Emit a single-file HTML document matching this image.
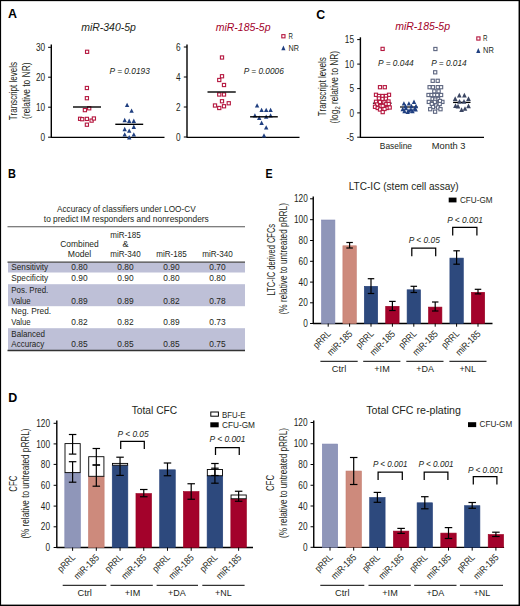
<!DOCTYPE html>
<html><head><meta charset="utf-8"><style>
html,body{margin:0;padding:0;background:#fff;overflow:hidden;width:520px;height:606px;}
svg{display:block;font-family:"Liberation Sans", sans-serif;}
</style></head><body>
<svg width="520" height="606" viewBox="0 0 520 606">
<rect x="0" y="0" width="520" height="606" fill="#000"/>
<rect x="1.1" y="1.15" width="517.45" height="603.45" fill="#fff"/>
<text x="7.9" y="18.1" font-size="13.5" text-anchor="start" fill="#000" font-weight="bold" font-style="normal" textLength="9.0" lengthAdjust="spacingAndGlyphs" >A</text>
<text x="316.2" y="18.6" font-size="13.5" text-anchor="start" fill="#000" font-weight="bold" font-style="normal" textLength="8.9" lengthAdjust="spacingAndGlyphs" >C</text>
<text x="8.1" y="177.8" font-size="13.5" text-anchor="start" fill="#000" font-weight="bold" font-style="normal" textLength="7.9" lengthAdjust="spacingAndGlyphs" >B</text>
<text x="265.4" y="178" font-size="13.5" text-anchor="start" fill="#000" font-weight="bold" font-style="normal" textLength="7.1" lengthAdjust="spacingAndGlyphs" >E</text>
<text x="8.2" y="401.6" font-size="13.5" text-anchor="start" fill="#000" font-weight="bold" font-style="normal" textLength="9.0" lengthAdjust="spacingAndGlyphs" >D</text>
<line x1="51.3" y1="44.5" x2="51.3" y2="137.8" stroke="#000" stroke-width="1.4"/>
<line x1="48.099999999999994" y1="47.3" x2="51.3" y2="47.3" stroke="#000" stroke-width="1"/>
<text x="45.2" y="50.9" font-size="10.2" text-anchor="end" fill="#231f20" font-weight="normal" font-style="normal" textLength="9.2" lengthAdjust="spacingAndGlyphs" >30</text>
<line x1="48.099999999999994" y1="77.2" x2="51.3" y2="77.2" stroke="#000" stroke-width="1"/>
<text x="45.2" y="80.8" font-size="10.2" text-anchor="end" fill="#231f20" font-weight="normal" font-style="normal" textLength="9.2" lengthAdjust="spacingAndGlyphs" >20</text>
<line x1="48.099999999999994" y1="107.2" x2="51.3" y2="107.2" stroke="#000" stroke-width="1"/>
<text x="45.2" y="110.8" font-size="10.2" text-anchor="end" fill="#231f20" font-weight="normal" font-style="normal" textLength="9.2" lengthAdjust="spacingAndGlyphs" >10</text>
<line x1="48.099999999999994" y1="137.2" x2="51.3" y2="137.2" stroke="#000" stroke-width="1"/>
<text x="45.2" y="140.79999999999998" font-size="10.2" text-anchor="end" fill="#231f20" font-weight="normal" font-style="normal" textLength="4.6" lengthAdjust="spacingAndGlyphs" >0</text>
<line x1="51" y1="137.3" x2="164.5" y2="137.3" stroke="#000" stroke-width="1.3"/>
<text x="81.2" y="30.9" font-size="10.5" text-anchor="start" fill="#231f20" font-weight="normal" font-style="italic" textLength="54.7" lengthAdjust="spacingAndGlyphs" >miR-340-5p</text>
<text x="109.6" y="74" font-size="8.8" text-anchor="start" fill="#231f20" font-weight="normal" font-style="italic" textLength="40.2" lengthAdjust="spacingAndGlyphs" >P = 0.0193</text>
<rect x="85.50" y="50.20" width="3.2" height="3.2" fill="#fff" stroke="#b5173f" stroke-width="1.1"/>
<rect x="85.30" y="86.40" width="3.2" height="3.2" fill="#fff" stroke="#b5173f" stroke-width="1.1"/>
<rect x="85.30" y="96.60" width="3.2" height="3.2" fill="#fff" stroke="#b5173f" stroke-width="1.1"/>
<rect x="87.60" y="106.70" width="3.2" height="3.2" fill="#fff" stroke="#b5173f" stroke-width="1.1"/>
<rect x="83.30" y="108.50" width="3.2" height="3.2" fill="#fff" stroke="#b5173f" stroke-width="1.1"/>
<rect x="78.50" y="117.20" width="3.2" height="3.2" fill="#fff" stroke="#b5173f" stroke-width="1.1"/>
<rect x="80.60" y="117.60" width="3.2" height="3.2" fill="#fff" stroke="#b5173f" stroke-width="1.1"/>
<rect x="85.30" y="117.30" width="3.2" height="3.2" fill="#fff" stroke="#b5173f" stroke-width="1.1"/>
<rect x="90.00" y="119.00" width="3.2" height="3.2" fill="#fff" stroke="#b5173f" stroke-width="1.1"/>
<rect x="92.30" y="116.90" width="3.2" height="3.2" fill="#fff" stroke="#b5173f" stroke-width="1.1"/>
<rect x="85.30" y="123.10" width="3.2" height="3.2" fill="#fff" stroke="#b5173f" stroke-width="1.1"/>
<line x1="73" y1="107" x2="101" y2="107" stroke="#000" stroke-width="1.4"/>
<polygon points="127.10,102.70 129.30,107.10 124.90,107.10" fill="#1f3f80"/>
<polygon points="131.60,108.40 133.80,112.80 129.40,112.80" fill="#1f3f80"/>
<polygon points="124.70,117.80 126.90,122.20 122.50,122.20" fill="#1f3f80"/>
<polygon points="129.20,118.60 131.40,123.00 127.00,123.00" fill="#1f3f80"/>
<polygon points="133.80,118.60 136.00,123.00 131.60,123.00" fill="#1f3f80"/>
<polygon points="133.80,124.50 136.00,128.90 131.60,128.90" fill="#1f3f80"/>
<polygon points="124.70,126.80 126.90,131.20 122.50,131.20" fill="#1f3f80"/>
<polygon points="129.20,128.40 131.40,132.80 127.00,132.80" fill="#1f3f80"/>
<polygon points="124.70,132.20 126.90,136.60 122.50,136.60" fill="#1f3f80"/>
<polygon points="133.80,132.20 136.00,136.60 131.60,136.60" fill="#1f3f80"/>
<polygon points="129.20,135.10 131.40,139.50 127.00,139.50" fill="#1f3f80"/>
<line x1="115.3" y1="124.3" x2="143.2" y2="124.3" stroke="#000" stroke-width="1.4"/>
<text transform="translate(16.8,91) rotate(-90)" x="0" y="0" font-size="10" text-anchor="middle" fill="#231f20" textLength="58.3" lengthAdjust="spacingAndGlyphs">Transcript levels</text>
<text transform="translate(30,90.7) rotate(-90)" x="0" y="0" font-size="10" text-anchor="middle" fill="#231f20" textLength="56.4" lengthAdjust="spacingAndGlyphs">(relative to NR)</text>
<line x1="187" y1="44.5" x2="187" y2="137.8" stroke="#000" stroke-width="1.4"/>
<line x1="183.8" y1="47" x2="187" y2="47" stroke="#000" stroke-width="1"/>
<text x="180.5" y="50.6" font-size="10.2" text-anchor="end" fill="#231f20" font-weight="normal" font-style="normal" textLength="4.6" lengthAdjust="spacingAndGlyphs" >6</text>
<line x1="183.8" y1="77" x2="187" y2="77" stroke="#000" stroke-width="1"/>
<text x="180.5" y="80.6" font-size="10.2" text-anchor="end" fill="#231f20" font-weight="normal" font-style="normal" textLength="4.6" lengthAdjust="spacingAndGlyphs" >4</text>
<line x1="183.8" y1="107" x2="187" y2="107" stroke="#000" stroke-width="1"/>
<text x="180.5" y="110.6" font-size="10.2" text-anchor="end" fill="#231f20" font-weight="normal" font-style="normal" textLength="4.6" lengthAdjust="spacingAndGlyphs" >2</text>
<line x1="183.8" y1="137" x2="187" y2="137" stroke="#000" stroke-width="1"/>
<text x="180.5" y="140.6" font-size="10.2" text-anchor="end" fill="#231f20" font-weight="normal" font-style="normal" textLength="4.6" lengthAdjust="spacingAndGlyphs" >0</text>
<line x1="187" y1="137.3" x2="299.5" y2="137.3" stroke="#000" stroke-width="1.3"/>
<text x="215.75" y="30.5" font-size="10.5" text-anchor="start" fill="#a3022b" font-weight="normal" font-style="italic" textLength="54.75" lengthAdjust="spacingAndGlyphs" >miR-185-5p</text>
<rect x="281.80" y="34.65" width="3.2" height="3.2" fill="#fff" stroke="#b5173f" stroke-width="1.1"/>
<text x="288.6" y="39" font-size="8.9" text-anchor="start" fill="#231f20" font-weight="normal" font-style="normal" textLength="4.4" lengthAdjust="spacingAndGlyphs" >R</text>
<polygon points="283.40,45.40 285.50,50.20 281.30,50.20" fill="#1f3f80"/>
<text x="288.6" y="50.5" font-size="8.9" text-anchor="start" fill="#231f20" font-weight="normal" font-style="normal" textLength="10.4" lengthAdjust="spacingAndGlyphs" >NR</text>
<text x="243.75" y="74.4" font-size="8.8" text-anchor="start" fill="#231f20" font-weight="normal" font-style="italic" textLength="40" lengthAdjust="spacingAndGlyphs" >P = 0.0006</text>
<rect x="220.40" y="55.90" width="3.2" height="3.2" fill="#fff" stroke="#b5173f" stroke-width="1.1"/>
<rect x="220.40" y="74.65" width="3.2" height="3.2" fill="#fff" stroke="#b5173f" stroke-width="1.1"/>
<rect x="217.65" y="78.40" width="3.2" height="3.2" fill="#fff" stroke="#b5173f" stroke-width="1.1"/>
<rect x="222.40" y="83.40" width="3.2" height="3.2" fill="#fff" stroke="#b5173f" stroke-width="1.1"/>
<rect x="217.65" y="92.90" width="3.2" height="3.2" fill="#fff" stroke="#b5173f" stroke-width="1.1"/>
<rect x="222.40" y="92.90" width="3.2" height="3.2" fill="#fff" stroke="#b5173f" stroke-width="1.1"/>
<rect x="220.40" y="99.65" width="3.2" height="3.2" fill="#fff" stroke="#b5173f" stroke-width="1.1"/>
<rect x="213.40" y="103.90" width="3.2" height="3.2" fill="#fff" stroke="#b5173f" stroke-width="1.1"/>
<rect x="217.65" y="106.40" width="3.2" height="3.2" fill="#fff" stroke="#b5173f" stroke-width="1.1"/>
<rect x="222.40" y="104.65" width="3.2" height="3.2" fill="#fff" stroke="#b5173f" stroke-width="1.1"/>
<rect x="227.15" y="101.65" width="3.2" height="3.2" fill="#fff" stroke="#b5173f" stroke-width="1.1"/>
<line x1="207.5" y1="92" x2="235.75" y2="92" stroke="#000" stroke-width="1.4"/>
<polygon points="257.10,103.20 259.30,107.60 254.90,107.60" fill="#1f3f80"/>
<polygon points="261.60,107.70 263.80,112.10 259.40,112.10" fill="#1f3f80"/>
<polygon points="266.20,107.70 268.40,112.10 264.00,112.10" fill="#1f3f80"/>
<polygon points="270.60,107.70 272.80,112.10 268.40,112.10" fill="#1f3f80"/>
<polygon points="254.90,113.20 257.10,117.60 252.70,117.60" fill="#1f3f80"/>
<polygon points="270.60,113.20 272.80,117.60 268.40,117.60" fill="#1f3f80"/>
<polygon points="266.20,114.40 268.40,118.80 264.00,118.80" fill="#1f3f80"/>
<polygon points="259.20,115.60 261.40,120.00 257.00,120.00" fill="#1f3f80"/>
<polygon points="261.60,120.50 263.80,124.90 259.40,124.90" fill="#1f3f80"/>
<polygon points="266.20,125.20 268.40,129.60 264.00,129.60" fill="#1f3f80"/>
<polygon points="264.00,133.20 266.20,137.60 261.80,137.60" fill="#1f3f80"/>
<line x1="250.1" y1="116.8" x2="277.8" y2="116.8" stroke="#000" stroke-width="1.4"/>
<line x1="360.4" y1="37.3" x2="360.4" y2="137.7" stroke="#000" stroke-width="1.4"/>
<line x1="357.2" y1="39.6" x2="360.4" y2="39.6" stroke="#000" stroke-width="1"/>
<text x="354" y="43.2" font-size="10.2" text-anchor="end" fill="#231f20" font-weight="normal" font-style="normal" textLength="9.2" lengthAdjust="spacingAndGlyphs" >15</text>
<line x1="357.2" y1="64.1" x2="360.4" y2="64.1" stroke="#000" stroke-width="1"/>
<text x="354" y="67.69999999999999" font-size="10.2" text-anchor="end" fill="#231f20" font-weight="normal" font-style="normal" textLength="9.2" lengthAdjust="spacingAndGlyphs" >10</text>
<line x1="357.2" y1="88.6" x2="360.4" y2="88.6" stroke="#000" stroke-width="1"/>
<text x="354" y="92.19999999999999" font-size="10.2" text-anchor="end" fill="#231f20" font-weight="normal" font-style="normal" textLength="4.6" lengthAdjust="spacingAndGlyphs" >5</text>
<line x1="357.2" y1="112.9" x2="360.4" y2="112.9" stroke="#000" stroke-width="1"/>
<text x="354" y="116.5" font-size="10.2" text-anchor="end" fill="#231f20" font-weight="normal" font-style="normal" textLength="4.6" lengthAdjust="spacingAndGlyphs" >0</text>
<line x1="357.2" y1="137.2" x2="360.4" y2="137.2" stroke="#000" stroke-width="1"/>
<text x="354" y="140.79999999999998" font-size="10.2" text-anchor="end" fill="#231f20" font-weight="normal" font-style="normal" textLength="7.6" lengthAdjust="spacingAndGlyphs" >-5</text>
<line x1="360" y1="137.3" x2="484" y2="137.3" stroke="#000" stroke-width="1.3"/>
<text x="395.2" y="30.2" font-size="10.5" text-anchor="start" fill="#a3022b" font-weight="normal" font-style="italic" textLength="54.8" lengthAdjust="spacingAndGlyphs" >miR-185-5p</text>
<rect x="476.80" y="36.90" width="3.2" height="3.2" fill="#fff" stroke="#b5173f" stroke-width="1.1"/>
<text x="483" y="41.1" font-size="8.9" text-anchor="start" fill="#231f20" font-weight="normal" font-style="normal" textLength="4.5" lengthAdjust="spacingAndGlyphs" >R</text>
<polygon points="478.30,48.10 480.40,52.90 476.20,52.90" fill="#1f3f80"/>
<text x="483" y="52.8" font-size="8.9" text-anchor="start" fill="#231f20" font-weight="normal" font-style="normal" textLength="10.8" lengthAdjust="spacingAndGlyphs" >NR</text>
<text x="378.1" y="66" font-size="8.8" text-anchor="start" fill="#231f20" font-weight="normal" font-style="italic" textLength="35.6" lengthAdjust="spacingAndGlyphs" >P = 0.044</text>
<text x="431.2" y="66" font-size="8.8" text-anchor="start" fill="#231f20" font-weight="normal" font-style="italic" textLength="35.5" lengthAdjust="spacingAndGlyphs" >P = 0.014</text>
<text x="379.8" y="148.7" font-size="9.8" text-anchor="start" fill="#231f20" font-weight="normal" font-style="normal" textLength="32.2" lengthAdjust="spacingAndGlyphs" >Baseline</text>
<text x="431.8" y="148.7" font-size="9.8" text-anchor="start" fill="#231f20" font-weight="normal" font-style="normal" textLength="33.6" lengthAdjust="spacingAndGlyphs" >Month 3</text>
<text transform="translate(325.8,86.7) rotate(-90)" x="0" y="0" font-size="10" text-anchor="middle" fill="#231f20" textLength="59" lengthAdjust="spacingAndGlyphs">Transcript levels</text>
<text transform="translate(338,87.2) rotate(-90)" x="0" y="0" font-size="10" text-anchor="middle" fill="#231f20" textLength="72.6" lengthAdjust="spacingAndGlyphs">(log<tspan font-size="7" dy="2">2</tspan><tspan dy="-2"> relative to NR)</tspan></text>
<line x1="372.9" y1="103.2" x2="391.6" y2="103.2" stroke="#000" stroke-width="1.2"/>
<rect x="381.00" y="47.30" width="3.2" height="3.2" fill="#fff" stroke="#b5173f" stroke-width="1.1"/>
<rect x="378.40" y="85.60" width="3.2" height="3.2" fill="#fff" stroke="#b5173f" stroke-width="1.1"/>
<rect x="383.20" y="85.60" width="3.2" height="3.2" fill="#fff" stroke="#b5173f" stroke-width="1.1"/>
<rect x="374.40" y="93.20" width="3.2" height="3.2" fill="#fff" stroke="#b5173f" stroke-width="1.1"/>
<rect x="387.40" y="93.20" width="3.2" height="3.2" fill="#fff" stroke="#b5173f" stroke-width="1.1"/>
<rect x="377.40" y="94.40" width="3.2" height="3.2" fill="#fff" stroke="#b5173f" stroke-width="1.1"/>
<rect x="380.90" y="94.40" width="3.2" height="3.2" fill="#fff" stroke="#b5173f" stroke-width="1.1"/>
<rect x="384.40" y="94.40" width="3.2" height="3.2" fill="#fff" stroke="#b5173f" stroke-width="1.1"/>
<rect x="377.30" y="96.80" width="3.2" height="3.2" fill="#fff" stroke="#b5173f" stroke-width="1.1"/>
<rect x="380.90" y="97.30" width="3.2" height="3.2" fill="#fff" stroke="#b5173f" stroke-width="1.1"/>
<rect x="384.30" y="97.10" width="3.2" height="3.2" fill="#fff" stroke="#b5173f" stroke-width="1.1"/>
<rect x="374.40" y="100.20" width="3.2" height="3.2" fill="#fff" stroke="#b5173f" stroke-width="1.1"/>
<rect x="378.30" y="100.40" width="3.2" height="3.2" fill="#fff" stroke="#b5173f" stroke-width="1.1"/>
<rect x="382.80" y="100.70" width="3.2" height="3.2" fill="#fff" stroke="#b5173f" stroke-width="1.1"/>
<rect x="386.90" y="99.90" width="3.2" height="3.2" fill="#fff" stroke="#b5173f" stroke-width="1.1"/>
<rect x="384.70" y="102.40" width="3.2" height="3.2" fill="#fff" stroke="#b5173f" stroke-width="1.1"/>
<rect x="387.15" y="102.40" width="3.2" height="3.2" fill="#fff" stroke="#b5173f" stroke-width="1.1"/>
<rect x="375.40" y="102.90" width="3.2" height="3.2" fill="#fff" stroke="#b5173f" stroke-width="1.1"/>
<rect x="379.00" y="104.30" width="3.2" height="3.2" fill="#fff" stroke="#b5173f" stroke-width="1.1"/>
<rect x="381.10" y="104.30" width="3.2" height="3.2" fill="#fff" stroke="#b5173f" stroke-width="1.1"/>
<rect x="373.40" y="105.20" width="3.2" height="3.2" fill="#fff" stroke="#b5173f" stroke-width="1.1"/>
<rect x="376.10" y="106.40" width="3.2" height="3.2" fill="#fff" stroke="#b5173f" stroke-width="1.1"/>
<rect x="385.40" y="106.40" width="3.2" height="3.2" fill="#fff" stroke="#b5173f" stroke-width="1.1"/>
<rect x="388.10" y="105.90" width="3.2" height="3.2" fill="#fff" stroke="#b5173f" stroke-width="1.1"/>
<rect x="382.90" y="107.40" width="3.2" height="3.2" fill="#fff" stroke="#b5173f" stroke-width="1.1"/>
<rect x="378.40" y="107.90" width="3.2" height="3.2" fill="#fff" stroke="#b5173f" stroke-width="1.1"/>
<rect x="381.10" y="110.50" width="3.2" height="3.2" fill="#fff" stroke="#b5173f" stroke-width="1.1"/>
<line x1="400" y1="107" x2="417.6" y2="107" stroke="#000" stroke-width="1.2"/>
<polygon points="403.90,101.20 406.10,105.60 401.70,105.60" fill="#1f3f80"/>
<polygon points="408.90,101.20 411.10,105.60 406.70,105.60" fill="#1f3f80"/>
<polygon points="414.00,99.50 416.20,103.90 411.80,103.90" fill="#1f3f80"/>
<polygon points="405.50,103.80 407.70,108.20 403.30,108.20" fill="#1f3f80"/>
<polygon points="411.50,103.80 413.70,108.20 409.30,108.20" fill="#1f3f80"/>
<polygon points="416.00,103.80 418.20,108.20 413.80,108.20" fill="#1f3f80"/>
<polygon points="402.70,106.80 404.90,111.20 400.50,111.20" fill="#1f3f80"/>
<polygon points="406.00,105.80 408.20,110.20 403.80,110.20" fill="#1f3f80"/>
<polygon points="409.00,108.30 411.20,112.70 406.80,112.70" fill="#1f3f80"/>
<polygon points="412.50,108.80 414.70,113.20 410.30,113.20" fill="#1f3f80"/>
<polygon points="404.50,108.80 406.70,113.20 402.30,113.20" fill="#1f3f80"/>
<polygon points="407.70,109.60 409.90,114.00 405.50,114.00" fill="#1f3f80"/>
<polygon points="410.90,107.20 413.10,111.60 408.70,111.60" fill="#1f3f80"/>
<polygon points="414.70,106.30 416.90,110.70 412.50,110.70" fill="#1f3f80"/>
<polygon points="415.70,107.20 417.90,111.60 413.50,111.60" fill="#1f3f80"/>
<line x1="427" y1="102" x2="444" y2="102" stroke="#333" stroke-width="1.2"/>
<rect x="433.80" y="47.40" width="3.2" height="3.2" fill="#fff" stroke="#5d6680" stroke-width="1.1"/>
<rect x="433.60" y="70.70" width="3.2" height="3.2" fill="#fff" stroke="#5d6680" stroke-width="1.1"/>
<rect x="431.10" y="79.20" width="3.2" height="3.2" fill="#fff" stroke="#5d6680" stroke-width="1.1"/>
<rect x="436.10" y="79.20" width="3.2" height="3.2" fill="#fff" stroke="#5d6680" stroke-width="1.1"/>
<rect x="428.00" y="85.60" width="3.2" height="3.2" fill="#fff" stroke="#5d6680" stroke-width="1.1"/>
<rect x="431.30" y="85.60" width="3.2" height="3.2" fill="#fff" stroke="#5d6680" stroke-width="1.1"/>
<rect x="436.20" y="85.60" width="3.2" height="3.2" fill="#fff" stroke="#5d6680" stroke-width="1.1"/>
<rect x="439.50" y="85.60" width="3.2" height="3.2" fill="#fff" stroke="#5d6680" stroke-width="1.1"/>
<rect x="432.70" y="89.70" width="3.2" height="3.2" fill="#fff" stroke="#5d6680" stroke-width="1.1"/>
<rect x="437.00" y="89.70" width="3.2" height="3.2" fill="#fff" stroke="#5d6680" stroke-width="1.1"/>
<rect x="426.90" y="93.40" width="3.2" height="3.2" fill="#fff" stroke="#5d6680" stroke-width="1.1"/>
<rect x="430.00" y="93.40" width="3.2" height="3.2" fill="#fff" stroke="#5d6680" stroke-width="1.1"/>
<rect x="432.90" y="93.40" width="3.2" height="3.2" fill="#fff" stroke="#5d6680" stroke-width="1.1"/>
<rect x="435.70" y="93.40" width="3.2" height="3.2" fill="#fff" stroke="#5d6680" stroke-width="1.1"/>
<rect x="439.50" y="93.40" width="3.2" height="3.2" fill="#fff" stroke="#5d6680" stroke-width="1.1"/>
<rect x="431.00" y="97.30" width="3.2" height="3.2" fill="#fff" stroke="#5d6680" stroke-width="1.1"/>
<rect x="436.50" y="97.30" width="3.2" height="3.2" fill="#fff" stroke="#5d6680" stroke-width="1.1"/>
<rect x="433.70" y="97.90" width="3.2" height="3.2" fill="#fff" stroke="#5d6680" stroke-width="1.1"/>
<rect x="427.20" y="100.30" width="3.2" height="3.2" fill="#fff" stroke="#5d6680" stroke-width="1.1"/>
<rect x="433.20" y="100.30" width="3.2" height="3.2" fill="#fff" stroke="#5d6680" stroke-width="1.1"/>
<rect x="440.80" y="100.30" width="3.2" height="3.2" fill="#fff" stroke="#5d6680" stroke-width="1.1"/>
<rect x="438.40" y="99.40" width="3.2" height="3.2" fill="#fff" stroke="#5d6680" stroke-width="1.1"/>
<rect x="430.20" y="102.40" width="3.2" height="3.2" fill="#fff" stroke="#5d6680" stroke-width="1.1"/>
<rect x="438.10" y="102.40" width="3.2" height="3.2" fill="#fff" stroke="#5d6680" stroke-width="1.1"/>
<rect x="434.40" y="103.90" width="3.2" height="3.2" fill="#fff" stroke="#5d6680" stroke-width="1.1"/>
<rect x="431.40" y="105.40" width="3.2" height="3.2" fill="#fff" stroke="#5d6680" stroke-width="1.1"/>
<rect x="436.40" y="105.90" width="3.2" height="3.2" fill="#fff" stroke="#5d6680" stroke-width="1.1"/>
<rect x="428.60" y="107.60" width="3.2" height="3.2" fill="#fff" stroke="#5d6680" stroke-width="1.1"/>
<rect x="438.90" y="107.60" width="3.2" height="3.2" fill="#fff" stroke="#5d6680" stroke-width="1.1"/>
<rect x="433.50" y="110.10" width="3.2" height="3.2" fill="#fff" stroke="#5d6680" stroke-width="1.1"/>
<line x1="453.1" y1="102.4" x2="470.5" y2="102.4" stroke="#000" stroke-width="1.3"/>
<polygon points="459.30,92.85 461.65,97.55 456.95,97.55" fill="#3b4663"/>
<polygon points="464.40,92.85 466.75,97.55 462.05,97.55" fill="#3b4663"/>
<polygon points="455.20,96.35 457.55,101.05 452.85,101.05" fill="#3b4663"/>
<polygon points="468.50,96.35 470.85,101.05 466.15,101.05" fill="#3b4663"/>
<polygon points="459.50,98.95 461.85,103.65 457.15,103.65" fill="#3b4663"/>
<polygon points="464.00,98.95 466.35,103.65 461.65,103.65" fill="#3b4663"/>
<polygon points="455.50,103.25 457.85,107.95 453.15,107.95" fill="#3b4663"/>
<polygon points="458.00,103.85 460.35,108.55 455.65,108.55" fill="#3b4663"/>
<polygon points="468.50,103.55 470.85,108.25 466.15,108.25" fill="#3b4663"/>
<polygon points="461.60,107.25 463.95,111.95 459.25,111.95" fill="#3b4663"/>
<polygon points="465.00,106.15 467.35,110.85 462.65,110.85" fill="#3b4663"/>
<text x="126.3" y="211.6" font-size="9.4" text-anchor="middle" fill="#231f20" font-weight="normal" font-style="normal" textLength="138.7" lengthAdjust="spacingAndGlyphs" >Accuracy of classifiers under LOO-CV</text>
<text x="126.3" y="221.9" font-size="9.4" text-anchor="middle" fill="#231f20" font-weight="normal" font-style="normal" textLength="165" lengthAdjust="spacingAndGlyphs" >to predict IM responders and nonresponders</text>
<line x1="7.5" y1="226.8" x2="245" y2="226.8" stroke="#555" stroke-width="1.1"/>
<text x="79.5" y="247" font-size="9.1" text-anchor="middle" fill="#231f20" font-weight="normal" font-style="normal" textLength="38.5" lengthAdjust="spacingAndGlyphs" >Combined</text>
<text x="79.5" y="256.6" font-size="9.1" text-anchor="middle" fill="#231f20" font-weight="normal" font-style="normal" textLength="23.5" lengthAdjust="spacingAndGlyphs" >Model</text>
<text x="125.5" y="238" font-size="9.1" text-anchor="middle" fill="#231f20" font-weight="normal" font-style="normal" textLength="30.4" lengthAdjust="spacingAndGlyphs" >miR-185</text>
<text x="125.5" y="246.7" font-size="9.1" text-anchor="middle" fill="#231f20" font-weight="normal" font-style="normal" >&amp;</text>
<text x="125.5" y="256.6" font-size="9.1" text-anchor="middle" fill="#231f20" font-weight="normal" font-style="normal" textLength="30.4" lengthAdjust="spacingAndGlyphs" >miR-340</text>
<text x="171.5" y="256.6" font-size="9.1" text-anchor="middle" fill="#231f20" font-weight="normal" font-style="normal" textLength="30.4" lengthAdjust="spacingAndGlyphs" >miR-185</text>
<text x="217.5" y="256.6" font-size="9.1" text-anchor="middle" fill="#231f20" font-weight="normal" font-style="normal" textLength="30.7" lengthAdjust="spacingAndGlyphs" >miR-340</text>
<rect x="8" y="262.5" width="237" height="10" fill="#bec0d7" stroke="none" stroke-width="0"/>
<rect x="8" y="284.2" width="237" height="22" fill="#bec0d7" stroke="none" stroke-width="0"/>
<rect x="8" y="328.2" width="237" height="22" fill="#bec0d7" stroke="none" stroke-width="0"/>
<line x1="7.5" y1="262.2" x2="245" y2="262.2" stroke="#444" stroke-width="1.3"/>
<line x1="7.5" y1="350.5" x2="245" y2="350.5" stroke="#333" stroke-width="1.3"/>
<text x="11.3" y="270.3" font-size="9.1" text-anchor="start" fill="#231f20" font-weight="normal" font-style="normal" textLength="36.9" lengthAdjust="spacingAndGlyphs" >Sensitivity</text>
<text x="79.5" y="270.3" font-size="9.1" text-anchor="middle" fill="#231f20" font-weight="normal" font-style="normal" textLength="16.3" lengthAdjust="spacingAndGlyphs" >0.80</text>
<text x="125.5" y="270.3" font-size="9.1" text-anchor="middle" fill="#231f20" font-weight="normal" font-style="normal" textLength="16.3" lengthAdjust="spacingAndGlyphs" >0.80</text>
<text x="171.5" y="270.3" font-size="9.1" text-anchor="middle" fill="#231f20" font-weight="normal" font-style="normal" textLength="16.3" lengthAdjust="spacingAndGlyphs" >0.90</text>
<text x="217.5" y="270.3" font-size="9.1" text-anchor="middle" fill="#231f20" font-weight="normal" font-style="normal" textLength="16.3" lengthAdjust="spacingAndGlyphs" >0.70</text>
<text x="11.3" y="281.4" font-size="9.1" text-anchor="start" fill="#231f20" font-weight="normal" font-style="normal" textLength="36.9" lengthAdjust="spacingAndGlyphs" >Specificity</text>
<text x="79.5" y="281.4" font-size="9.1" text-anchor="middle" fill="#231f20" font-weight="normal" font-style="normal" textLength="16.3" lengthAdjust="spacingAndGlyphs" >0.90</text>
<text x="125.5" y="281.4" font-size="9.1" text-anchor="middle" fill="#231f20" font-weight="normal" font-style="normal" textLength="16.3" lengthAdjust="spacingAndGlyphs" >0.90</text>
<text x="171.5" y="281.4" font-size="9.1" text-anchor="middle" fill="#231f20" font-weight="normal" font-style="normal" textLength="16.3" lengthAdjust="spacingAndGlyphs" >0.80</text>
<text x="217.5" y="281.4" font-size="9.1" text-anchor="middle" fill="#231f20" font-weight="normal" font-style="normal" textLength="16.3" lengthAdjust="spacingAndGlyphs" >0.80</text>
<text x="11.3" y="303.6" font-size="9.1" text-anchor="start" fill="#231f20" font-weight="normal" font-style="normal" textLength="19.3" lengthAdjust="spacingAndGlyphs" >Value</text>
<text x="79.5" y="303.6" font-size="9.1" text-anchor="middle" fill="#231f20" font-weight="normal" font-style="normal" textLength="16.3" lengthAdjust="spacingAndGlyphs" >0.89</text>
<text x="125.5" y="303.6" font-size="9.1" text-anchor="middle" fill="#231f20" font-weight="normal" font-style="normal" textLength="16.3" lengthAdjust="spacingAndGlyphs" >0.89</text>
<text x="171.5" y="303.6" font-size="9.1" text-anchor="middle" fill="#231f20" font-weight="normal" font-style="normal" textLength="16.3" lengthAdjust="spacingAndGlyphs" >0.82</text>
<text x="217.5" y="303.6" font-size="9.1" text-anchor="middle" fill="#231f20" font-weight="normal" font-style="normal" textLength="16.3" lengthAdjust="spacingAndGlyphs" >0.78</text>
<text x="11.3" y="325.2" font-size="9.1" text-anchor="start" fill="#231f20" font-weight="normal" font-style="normal" textLength="19.3" lengthAdjust="spacingAndGlyphs" >Value</text>
<text x="79.5" y="325.2" font-size="9.1" text-anchor="middle" fill="#231f20" font-weight="normal" font-style="normal" textLength="16.3" lengthAdjust="spacingAndGlyphs" >0.82</text>
<text x="125.5" y="325.2" font-size="9.1" text-anchor="middle" fill="#231f20" font-weight="normal" font-style="normal" textLength="16.3" lengthAdjust="spacingAndGlyphs" >0.82</text>
<text x="171.5" y="325.2" font-size="9.1" text-anchor="middle" fill="#231f20" font-weight="normal" font-style="normal" textLength="16.3" lengthAdjust="spacingAndGlyphs" >0.89</text>
<text x="217.5" y="325.2" font-size="9.1" text-anchor="middle" fill="#231f20" font-weight="normal" font-style="normal" textLength="16.3" lengthAdjust="spacingAndGlyphs" >0.73</text>
<text x="11.3" y="347.0" font-size="9.1" text-anchor="start" fill="#231f20" font-weight="normal" font-style="normal" textLength="33.0" lengthAdjust="spacingAndGlyphs" >Accuracy</text>
<text x="79.5" y="347.0" font-size="9.1" text-anchor="middle" fill="#231f20" font-weight="normal" font-style="normal" textLength="16.3" lengthAdjust="spacingAndGlyphs" >0.85</text>
<text x="125.5" y="347.0" font-size="9.1" text-anchor="middle" fill="#231f20" font-weight="normal" font-style="normal" textLength="16.3" lengthAdjust="spacingAndGlyphs" >0.85</text>
<text x="171.5" y="347.0" font-size="9.1" text-anchor="middle" fill="#231f20" font-weight="normal" font-style="normal" textLength="16.3" lengthAdjust="spacingAndGlyphs" >0.85</text>
<text x="217.5" y="347.0" font-size="9.1" text-anchor="middle" fill="#231f20" font-weight="normal" font-style="normal" textLength="16.3" lengthAdjust="spacingAndGlyphs" >0.75</text>
<text x="11.3" y="292.8" font-size="9.1" text-anchor="start" fill="#231f20" font-weight="normal" font-style="normal" textLength="37" lengthAdjust="spacingAndGlyphs" >Pos. Pred.</text>
<text x="11.3" y="314.4" font-size="9.1" text-anchor="start" fill="#231f20" font-weight="normal" font-style="normal" textLength="39.8" lengthAdjust="spacingAndGlyphs" >Neg. Pred.</text>
<text x="11.3" y="336.5" font-size="9.1" text-anchor="start" fill="#231f20" font-weight="normal" font-style="normal" textLength="33.6" lengthAdjust="spacingAndGlyphs" >Balanced</text>
<line x1="313.25" y1="196.5" x2="313.25" y2="324.0" stroke="#000" stroke-width="1.4"/>
<line x1="310.05" y1="198.8" x2="313.25" y2="198.8" stroke="#000" stroke-width="1"/>
<text x="307.8" y="202.4" font-size="10.2" text-anchor="end" fill="#231f20" font-weight="normal" font-style="normal" textLength="13.8" lengthAdjust="spacingAndGlyphs" >120</text>
<line x1="310.05" y1="219.7" x2="313.25" y2="219.7" stroke="#000" stroke-width="1"/>
<text x="307.8" y="223.29999999999998" font-size="10.2" text-anchor="end" fill="#231f20" font-weight="normal" font-style="normal" textLength="13.8" lengthAdjust="spacingAndGlyphs" >100</text>
<line x1="310.05" y1="240.5" x2="313.25" y2="240.5" stroke="#000" stroke-width="1"/>
<text x="307.8" y="244.1" font-size="10.2" text-anchor="end" fill="#231f20" font-weight="normal" font-style="normal" textLength="9.2" lengthAdjust="spacingAndGlyphs" >80</text>
<line x1="310.05" y1="261.3" x2="313.25" y2="261.3" stroke="#000" stroke-width="1"/>
<text x="307.8" y="264.90000000000003" font-size="10.2" text-anchor="end" fill="#231f20" font-weight="normal" font-style="normal" textLength="9.2" lengthAdjust="spacingAndGlyphs" >60</text>
<line x1="310.05" y1="282.1" x2="313.25" y2="282.1" stroke="#000" stroke-width="1"/>
<text x="307.8" y="285.70000000000005" font-size="10.2" text-anchor="end" fill="#231f20" font-weight="normal" font-style="normal" textLength="9.2" lengthAdjust="spacingAndGlyphs" >40</text>
<line x1="310.05" y1="302.8" x2="313.25" y2="302.8" stroke="#000" stroke-width="1"/>
<text x="307.8" y="306.40000000000003" font-size="10.2" text-anchor="end" fill="#231f20" font-weight="normal" font-style="normal" textLength="9.2" lengthAdjust="spacingAndGlyphs" >20</text>
<line x1="310.05" y1="323.5" x2="313.25" y2="323.5" stroke="#000" stroke-width="1"/>
<text x="307.8" y="327.1" font-size="10.2" text-anchor="end" fill="#231f20" font-weight="normal" font-style="normal" textLength="4.6" lengthAdjust="spacingAndGlyphs" >0</text>
<line x1="313" y1="323.5" x2="492.5" y2="323.5" stroke="#000" stroke-width="1.3"/>
<text x="348.75" y="189.9" font-size="11" text-anchor="start" fill="#231f20" font-weight="normal" font-style="normal" textLength="109.9" lengthAdjust="spacingAndGlyphs" >LTC-IC (stem cell assay)</text>
<rect x="448.7" y="197.6" width="7.8" height="4.8" fill="#000" stroke="none" stroke-width="0"/>
<text x="460" y="203.4" font-size="9.4" text-anchor="start" fill="#231f20" font-weight="normal" font-style="normal" textLength="32.5" lengthAdjust="spacingAndGlyphs" >CFU-GM</text>
<rect x="321.50" y="220.00" width="13.40" height="103.50" fill="#8f96b9" stroke="#8088b3" stroke-width="0.6"/>
<line x1="328.2" y1="323.5" x2="328.2" y2="326.7" stroke="#000" stroke-width="1"/>
<text transform="translate(331.5,334.4) rotate(-45)" x="0" y="0" font-size="9.7" text-anchor="end" fill="#231f20" textLength="20.6" lengthAdjust="spacingAndGlyphs">pRRL</text>
<rect x="342.90" y="245.80" width="13.40" height="77.70" fill="#cd8a7c" stroke="#c47b6d" stroke-width="0.6"/>
<line x1="349.59999999999997" y1="242.5" x2="349.59999999999997" y2="248" stroke="#000" stroke-width="1.2"/>
<line x1="346.34999999999997" y1="242.5" x2="352.84999999999997" y2="242.5" stroke="#000" stroke-width="1.2"/>
<line x1="346.34999999999997" y1="248" x2="352.84999999999997" y2="248" stroke="#000" stroke-width="1.2"/>
<line x1="349.59999999999997" y1="323.5" x2="349.59999999999997" y2="326.7" stroke="#000" stroke-width="1"/>
<text transform="translate(352.9,334.4) rotate(-45)" x="0" y="0" font-size="9.7" text-anchor="end" fill="#231f20" textLength="31.0" lengthAdjust="spacingAndGlyphs">miR-185</text>
<rect x="364.30" y="286.30" width="13.40" height="37.20" fill="#2d497d" stroke="#223f78" stroke-width="0.6"/>
<line x1="371.0" y1="278.7" x2="371.0" y2="293.5" stroke="#000" stroke-width="1.2"/>
<line x1="367.75" y1="278.7" x2="374.25" y2="278.7" stroke="#000" stroke-width="1.2"/>
<line x1="367.75" y1="293.5" x2="374.25" y2="293.5" stroke="#000" stroke-width="1.2"/>
<line x1="371.0" y1="323.5" x2="371.0" y2="326.7" stroke="#000" stroke-width="1"/>
<text transform="translate(374.3,334.4) rotate(-45)" x="0" y="0" font-size="9.7" text-anchor="end" fill="#231f20" textLength="20.6" lengthAdjust="spacingAndGlyphs">pRRL</text>
<rect x="385.70" y="306.30" width="13.40" height="17.20" fill="#a3022b" stroke="#98001f" stroke-width="0.6"/>
<line x1="392.4" y1="301.4" x2="392.4" y2="310.5" stroke="#000" stroke-width="1.2"/>
<line x1="389.15" y1="301.4" x2="395.65" y2="301.4" stroke="#000" stroke-width="1.2"/>
<line x1="389.15" y1="310.5" x2="395.65" y2="310.5" stroke="#000" stroke-width="1.2"/>
<line x1="392.4" y1="323.5" x2="392.4" y2="326.7" stroke="#000" stroke-width="1"/>
<text transform="translate(395.7,334.4) rotate(-45)" x="0" y="0" font-size="9.7" text-anchor="end" fill="#231f20" textLength="31.0" lengthAdjust="spacingAndGlyphs">miR-185</text>
<rect x="407.10" y="289.80" width="13.40" height="33.70" fill="#2d497d" stroke="#223f78" stroke-width="0.6"/>
<line x1="413.79999999999995" y1="286.3" x2="413.79999999999995" y2="292.5" stroke="#000" stroke-width="1.2"/>
<line x1="410.54999999999995" y1="286.3" x2="417.04999999999995" y2="286.3" stroke="#000" stroke-width="1.2"/>
<line x1="410.54999999999995" y1="292.5" x2="417.04999999999995" y2="292.5" stroke="#000" stroke-width="1.2"/>
<line x1="413.79999999999995" y1="323.5" x2="413.79999999999995" y2="326.7" stroke="#000" stroke-width="1"/>
<text transform="translate(417.09999999999997,334.4) rotate(-45)" x="0" y="0" font-size="9.7" text-anchor="end" fill="#231f20" textLength="20.6" lengthAdjust="spacingAndGlyphs">pRRL</text>
<rect x="428.50" y="307.10" width="13.40" height="16.40" fill="#a3022b" stroke="#98001f" stroke-width="0.6"/>
<line x1="435.2" y1="302" x2="435.2" y2="311" stroke="#000" stroke-width="1.2"/>
<line x1="431.95" y1="302" x2="438.45" y2="302" stroke="#000" stroke-width="1.2"/>
<line x1="431.95" y1="311" x2="438.45" y2="311" stroke="#000" stroke-width="1.2"/>
<line x1="435.2" y1="323.5" x2="435.2" y2="326.7" stroke="#000" stroke-width="1"/>
<text transform="translate(438.5,334.4) rotate(-45)" x="0" y="0" font-size="9.7" text-anchor="end" fill="#231f20" textLength="31.0" lengthAdjust="spacingAndGlyphs">miR-185</text>
<rect x="449.90" y="258.10" width="13.40" height="65.40" fill="#2d497d" stroke="#223f78" stroke-width="0.6"/>
<line x1="456.59999999999997" y1="250.8" x2="456.59999999999997" y2="264.2" stroke="#000" stroke-width="1.2"/>
<line x1="453.34999999999997" y1="250.8" x2="459.84999999999997" y2="250.8" stroke="#000" stroke-width="1.2"/>
<line x1="453.34999999999997" y1="264.2" x2="459.84999999999997" y2="264.2" stroke="#000" stroke-width="1.2"/>
<line x1="456.59999999999997" y1="323.5" x2="456.59999999999997" y2="326.7" stroke="#000" stroke-width="1"/>
<text transform="translate(459.9,334.4) rotate(-45)" x="0" y="0" font-size="9.7" text-anchor="end" fill="#231f20" textLength="20.6" lengthAdjust="spacingAndGlyphs">pRRL</text>
<rect x="471.30" y="292.30" width="13.40" height="31.20" fill="#a3022b" stroke="#98001f" stroke-width="0.6"/>
<line x1="478.0" y1="289.3" x2="478.0" y2="293.9" stroke="#000" stroke-width="1.2"/>
<line x1="474.75" y1="289.3" x2="481.25" y2="289.3" stroke="#000" stroke-width="1.2"/>
<line x1="474.75" y1="293.9" x2="481.25" y2="293.9" stroke="#000" stroke-width="1.2"/>
<line x1="478.0" y1="323.5" x2="478.0" y2="326.7" stroke="#000" stroke-width="1"/>
<text transform="translate(481.3,334.4) rotate(-45)" x="0" y="0" font-size="9.7" text-anchor="end" fill="#231f20" textLength="31.0" lengthAdjust="spacingAndGlyphs">miR-185</text>
<polyline points="411.8,256.2 411.8,248.1 435.7,248.1 435.7,256.2" fill="none" stroke="#000" stroke-width="1.25"/>
<text x="408.8" y="242.6" font-size="8.8" text-anchor="start" fill="#231f20" font-weight="normal" font-style="italic" textLength="31" lengthAdjust="spacingAndGlyphs" >P &lt; 0.05</text>
<polyline points="452.7,235.4 452.7,227.4 476.9,227.4 476.9,235.4" fill="none" stroke="#000" stroke-width="1.25"/>
<text x="447.3" y="222.9" font-size="8.8" text-anchor="start" fill="#231f20" font-weight="normal" font-style="italic" textLength="35.6" lengthAdjust="spacingAndGlyphs" >P &lt; 0.001</text>
<text transform="translate(274.9,259.7) rotate(-90)" x="0" y="0" font-size="10.3" text-anchor="middle" fill="#231f20" textLength="71.6" lengthAdjust="spacingAndGlyphs">LTC-IC derived CFCs</text>
<text transform="translate(286.7,258.8) rotate(-90)" x="0" y="0" font-size="10.3" text-anchor="middle" fill="#231f20" textLength="111.4" lengthAdjust="spacingAndGlyphs">(% relative to untreated pRRL)</text>
<line x1="320.4" y1="361.3" x2="357.7" y2="361.3" stroke="#000" stroke-width="1"/>
<text x="339" y="371.6" font-size="9.7" text-anchor="middle" fill="#231f20" font-weight="normal" font-style="normal" textLength="14.4" lengthAdjust="spacingAndGlyphs" >Ctrl</text>
<line x1="363.2" y1="361.3" x2="400.4" y2="361.3" stroke="#000" stroke-width="1"/>
<text x="382" y="371.6" font-size="9.7" text-anchor="middle" fill="#231f20" font-weight="normal" font-style="normal" textLength="15.4" lengthAdjust="spacingAndGlyphs" >+IM</text>
<line x1="406.3" y1="361.3" x2="443.5" y2="361.3" stroke="#000" stroke-width="1"/>
<text x="425.2" y="371.6" font-size="9.7" text-anchor="middle" fill="#231f20" font-weight="normal" font-style="normal" textLength="17.8" lengthAdjust="spacingAndGlyphs" >+DA</text>
<line x1="449.4" y1="361.3" x2="486.5" y2="361.3" stroke="#000" stroke-width="1"/>
<text x="467.7" y="371.6" font-size="9.7" text-anchor="middle" fill="#231f20" font-weight="normal" font-style="normal" textLength="16.6" lengthAdjust="spacingAndGlyphs" >+NL</text>
<line x1="56.8" y1="420.4" x2="56.8" y2="548.0" stroke="#000" stroke-width="1.4"/>
<line x1="53.599999999999994" y1="423.3" x2="56.8" y2="423.3" stroke="#000" stroke-width="1"/>
<text x="50" y="426.90000000000003" font-size="10.2" text-anchor="end" fill="#231f20" font-weight="normal" font-style="normal" textLength="13.8" lengthAdjust="spacingAndGlyphs" >120</text>
<line x1="53.599999999999994" y1="443.9" x2="56.8" y2="443.9" stroke="#000" stroke-width="1"/>
<text x="50" y="447.5" font-size="10.2" text-anchor="end" fill="#231f20" font-weight="normal" font-style="normal" textLength="13.8" lengthAdjust="spacingAndGlyphs" >100</text>
<line x1="53.599999999999994" y1="464.4" x2="56.8" y2="464.4" stroke="#000" stroke-width="1"/>
<text x="50" y="468.0" font-size="10.2" text-anchor="end" fill="#231f20" font-weight="normal" font-style="normal" textLength="9.2" lengthAdjust="spacingAndGlyphs" >80</text>
<line x1="53.599999999999994" y1="485.3" x2="56.8" y2="485.3" stroke="#000" stroke-width="1"/>
<text x="50" y="488.90000000000003" font-size="10.2" text-anchor="end" fill="#231f20" font-weight="normal" font-style="normal" textLength="9.2" lengthAdjust="spacingAndGlyphs" >60</text>
<line x1="53.599999999999994" y1="506.1" x2="56.8" y2="506.1" stroke="#000" stroke-width="1"/>
<text x="50" y="509.70000000000005" font-size="10.2" text-anchor="end" fill="#231f20" font-weight="normal" font-style="normal" textLength="9.2" lengthAdjust="spacingAndGlyphs" >40</text>
<line x1="53.599999999999994" y1="526.8" x2="56.8" y2="526.8" stroke="#000" stroke-width="1"/>
<text x="50" y="530.4" font-size="10.2" text-anchor="end" fill="#231f20" font-weight="normal" font-style="normal" textLength="9.2" lengthAdjust="spacingAndGlyphs" >20</text>
<line x1="53.599999999999994" y1="547.5" x2="56.8" y2="547.5" stroke="#000" stroke-width="1"/>
<text x="50" y="551.1" font-size="10.2" text-anchor="end" fill="#231f20" font-weight="normal" font-style="normal" textLength="4.6" lengthAdjust="spacingAndGlyphs" >0</text>
<line x1="56.5" y1="547.5" x2="253" y2="547.5" stroke="#000" stroke-width="1.3"/>
<text x="131.7" y="414.1" font-size="11.4" text-anchor="start" fill="#231f20" font-weight="normal" font-style="normal" textLength="45.5" lengthAdjust="spacingAndGlyphs" >Total CFC</text>
<rect x="210.8" y="412.0" width="7.6" height="4.2" fill="#fff" stroke="#000" stroke-width="1.0"/>
<text x="222" y="417.6" font-size="9.4" text-anchor="start" fill="#231f20" font-weight="normal" font-style="normal" textLength="23.5" lengthAdjust="spacingAndGlyphs" >BFU-E</text>
<rect x="210.3" y="422.3" width="8.4" height="5.0" fill="#000" stroke="none" stroke-width="0"/>
<text x="222" y="427.7" font-size="9.4" text-anchor="start" fill="#231f20" font-weight="normal" font-style="normal" textLength="33" lengthAdjust="spacingAndGlyphs" >CFU-GM</text>
<rect x="64.80" y="472.90" width="15.60" height="74.60" fill="#8f96b9" stroke="#8088b3" stroke-width="0.6"/>
<rect x="65.0" y="443.6" width="15.2" height="29.0" fill="#fff" stroke="#000" stroke-width="0.9"/>
<line x1="72.6" y1="434.5" x2="72.6" y2="454.1" stroke="#000" stroke-width="1.2"/>
<line x1="68.85" y1="434.5" x2="76.35" y2="434.5" stroke="#000" stroke-width="1.2"/>
<line x1="68.85" y1="454.1" x2="76.35" y2="454.1" stroke="#000" stroke-width="1.2"/>
<line x1="72.6" y1="461.7" x2="72.6" y2="482.2" stroke="#000" stroke-width="1.2"/>
<line x1="68.85" y1="461.7" x2="76.35" y2="461.7" stroke="#000" stroke-width="1.2"/>
<line x1="68.85" y1="482.2" x2="76.35" y2="482.2" stroke="#000" stroke-width="1.2"/>
<line x1="72.6" y1="547.5" x2="72.6" y2="550.8" stroke="#000" stroke-width="1"/>
<text transform="translate(75.89999999999999,558.2) rotate(-45)" x="0" y="0" font-size="9.7" text-anchor="end" fill="#231f20" textLength="20.6" lengthAdjust="spacingAndGlyphs">pRRL</text>
<rect x="88.52" y="476.60" width="15.60" height="70.90" fill="#cd8a7c" stroke="#c47b6d" stroke-width="0.6"/>
<rect x="88.72" y="456.7" width="15.2" height="19.600000000000023" fill="#fff" stroke="#000" stroke-width="0.9"/>
<line x1="96.32" y1="448.5" x2="96.32" y2="465" stroke="#000" stroke-width="1.2"/>
<line x1="92.57" y1="448.5" x2="100.07" y2="448.5" stroke="#000" stroke-width="1.2"/>
<line x1="92.57" y1="465" x2="100.07" y2="465" stroke="#000" stroke-width="1.2"/>
<line x1="96.32" y1="465" x2="96.32" y2="486.2" stroke="#000" stroke-width="1.2"/>
<line x1="92.57" y1="465" x2="100.07" y2="465" stroke="#000" stroke-width="1.2"/>
<line x1="92.57" y1="486.2" x2="100.07" y2="486.2" stroke="#000" stroke-width="1.2"/>
<line x1="96.32" y1="547.5" x2="96.32" y2="550.8" stroke="#000" stroke-width="1"/>
<text transform="translate(99.61999999999999,558.2) rotate(-45)" x="0" y="0" font-size="9.7" text-anchor="end" fill="#231f20" textLength="31.0" lengthAdjust="spacingAndGlyphs">miR-185</text>
<rect x="112.24" y="465.50" width="15.60" height="82.00" fill="#2d497d" stroke="#223f78" stroke-width="0.6"/>
<rect x="112.44" y="463.4" width="15.2" height="1.8000000000000114" fill="#fff" stroke="#000" stroke-width="0.9"/>
<line x1="120.03999999999999" y1="457.2" x2="120.03999999999999" y2="475.4" stroke="#000" stroke-width="1.2"/>
<line x1="116.28999999999999" y1="457.2" x2="123.78999999999999" y2="457.2" stroke="#000" stroke-width="1.2"/>
<line x1="116.28999999999999" y1="475.4" x2="123.78999999999999" y2="475.4" stroke="#000" stroke-width="1.2"/>
<line x1="120.03999999999999" y1="547.5" x2="120.03999999999999" y2="550.8" stroke="#000" stroke-width="1"/>
<text transform="translate(123.33999999999999,558.2) rotate(-45)" x="0" y="0" font-size="9.7" text-anchor="end" fill="#231f20" textLength="20.6" lengthAdjust="spacingAndGlyphs">pRRL</text>
<rect x="135.96" y="493.55" width="15.60" height="53.95" fill="#a3022b" stroke="#98001f" stroke-width="0.6"/>
<line x1="143.76" y1="489.5" x2="143.76" y2="496.75" stroke="#000" stroke-width="1.2"/>
<line x1="140.01" y1="489.5" x2="147.51" y2="489.5" stroke="#000" stroke-width="1.2"/>
<line x1="140.01" y1="496.75" x2="147.51" y2="496.75" stroke="#000" stroke-width="1.2"/>
<line x1="143.76" y1="547.5" x2="143.76" y2="550.8" stroke="#000" stroke-width="1"/>
<text transform="translate(147.06,558.2) rotate(-45)" x="0" y="0" font-size="9.7" text-anchor="end" fill="#231f20" textLength="31.0" lengthAdjust="spacingAndGlyphs">miR-185</text>
<rect x="159.68" y="469.80" width="15.60" height="77.70" fill="#2d497d" stroke="#223f78" stroke-width="0.6"/>
<line x1="167.48" y1="463" x2="167.48" y2="475.75" stroke="#000" stroke-width="1.2"/>
<line x1="163.73" y1="463" x2="171.23" y2="463" stroke="#000" stroke-width="1.2"/>
<line x1="163.73" y1="475.75" x2="171.23" y2="475.75" stroke="#000" stroke-width="1.2"/>
<line x1="167.48" y1="547.5" x2="167.48" y2="550.8" stroke="#000" stroke-width="1"/>
<text transform="translate(170.78,558.2) rotate(-45)" x="0" y="0" font-size="9.7" text-anchor="end" fill="#231f20" textLength="20.6" lengthAdjust="spacingAndGlyphs">pRRL</text>
<rect x="183.40" y="491.55" width="15.60" height="55.95" fill="#a3022b" stroke="#98001f" stroke-width="0.6"/>
<line x1="191.2" y1="483.75" x2="191.2" y2="499.25" stroke="#000" stroke-width="1.2"/>
<line x1="187.45" y1="483.75" x2="194.95" y2="483.75" stroke="#000" stroke-width="1.2"/>
<line x1="187.45" y1="499.25" x2="194.95" y2="499.25" stroke="#000" stroke-width="1.2"/>
<line x1="191.2" y1="547.5" x2="191.2" y2="550.8" stroke="#000" stroke-width="1"/>
<text transform="translate(194.5,558.2) rotate(-45)" x="0" y="0" font-size="9.7" text-anchor="end" fill="#231f20" textLength="31.0" lengthAdjust="spacingAndGlyphs">miR-185</text>
<rect x="207.12" y="476.00" width="15.60" height="71.50" fill="#2d497d" stroke="#223f78" stroke-width="0.6"/>
<rect x="207.32" y="469.5" width="15.2" height="6.199999999999989" fill="#fff" stroke="#000" stroke-width="0.9"/>
<line x1="214.92" y1="463.5" x2="214.92" y2="475.5" stroke="#000" stroke-width="1.2"/>
<line x1="211.17" y1="463.5" x2="218.67" y2="463.5" stroke="#000" stroke-width="1.2"/>
<line x1="211.17" y1="475.5" x2="218.67" y2="475.5" stroke="#000" stroke-width="1.2"/>
<line x1="214.92" y1="468.2" x2="214.92" y2="483.2" stroke="#000" stroke-width="1.2"/>
<line x1="211.17" y1="468.2" x2="218.67" y2="468.2" stroke="#000" stroke-width="1.2"/>
<line x1="211.17" y1="483.2" x2="218.67" y2="483.2" stroke="#000" stroke-width="1.2"/>
<line x1="214.92" y1="547.5" x2="214.92" y2="550.8" stroke="#000" stroke-width="1"/>
<text transform="translate(218.22,558.2) rotate(-45)" x="0" y="0" font-size="9.7" text-anchor="end" fill="#231f20" textLength="20.6" lengthAdjust="spacingAndGlyphs">pRRL</text>
<rect x="230.84" y="499.05" width="15.60" height="48.45" fill="#a3022b" stroke="#98001f" stroke-width="0.6"/>
<rect x="231.04" y="495" width="15.2" height="3.75" fill="#fff" stroke="#000" stroke-width="0.9"/>
<line x1="238.64" y1="491.25" x2="238.64" y2="501.25" stroke="#000" stroke-width="1.2"/>
<line x1="234.89" y1="491.25" x2="242.39" y2="491.25" stroke="#000" stroke-width="1.2"/>
<line x1="234.89" y1="501.25" x2="242.39" y2="501.25" stroke="#000" stroke-width="1.2"/>
<line x1="238.64" y1="547.5" x2="238.64" y2="550.8" stroke="#000" stroke-width="1"/>
<text transform="translate(241.94,558.2) rotate(-45)" x="0" y="0" font-size="9.7" text-anchor="end" fill="#231f20" textLength="31.0" lengthAdjust="spacingAndGlyphs">miR-185</text>
<polyline points="120.7,449 120.7,441.4 144.3,441.4 144.3,449" fill="none" stroke="#000" stroke-width="1.25"/>
<text x="117.6" y="436.8" font-size="8.8" text-anchor="start" fill="#231f20" font-weight="normal" font-style="italic" textLength="31.1" lengthAdjust="spacingAndGlyphs" >P &lt; 0.05</text>
<polyline points="215.5,455 215.5,447.5 239.25,447.5 239.25,455" fill="none" stroke="#000" stroke-width="1.25"/>
<text x="209.5" y="442.4" font-size="8.8" text-anchor="start" fill="#231f20" font-weight="normal" font-style="italic" textLength="36" lengthAdjust="spacingAndGlyphs" >P &lt; 0.001</text>
<text transform="translate(17,483.6) rotate(-90)" x="0" y="0" font-size="10" text-anchor="middle" fill="#231f20" textLength="16.1" lengthAdjust="spacingAndGlyphs">CFC</text>
<text transform="translate(29.4,483.6) rotate(-90)" x="0" y="0" font-size="10" text-anchor="middle" fill="#231f20" textLength="110" lengthAdjust="spacingAndGlyphs">(% relative to untreated pRRL)</text>
<line x1="62.7" y1="585.3" x2="106.3" y2="585.3" stroke="#000" stroke-width="1"/>
<text x="84.7" y="596.2" font-size="9.7" text-anchor="middle" fill="#231f20" font-weight="normal" font-style="normal" textLength="14.4" lengthAdjust="spacingAndGlyphs" >Ctrl</text>
<line x1="110.5" y1="585.3" x2="152.8" y2="585.3" stroke="#000" stroke-width="1"/>
<text x="132.5" y="596.2" font-size="9.7" text-anchor="middle" fill="#231f20" font-weight="normal" font-style="normal" textLength="15.4" lengthAdjust="spacingAndGlyphs" >+IM</text>
<line x1="156.6" y1="585.3" x2="198" y2="585.3" stroke="#000" stroke-width="1"/>
<text x="176.9" y="596.2" font-size="9.7" text-anchor="middle" fill="#231f20" font-weight="normal" font-style="normal" textLength="17.8" lengthAdjust="spacingAndGlyphs" >+DA</text>
<line x1="202.3" y1="585.3" x2="244.6" y2="585.3" stroke="#000" stroke-width="1"/>
<text x="223.4" y="596.2" font-size="9.7" text-anchor="middle" fill="#231f20" font-weight="normal" font-style="normal" textLength="16.6" lengthAdjust="spacingAndGlyphs" >+NL</text>
<line x1="313.75" y1="420.4" x2="313.75" y2="547.8" stroke="#000" stroke-width="1.4"/>
<line x1="310.55" y1="422.5" x2="313.75" y2="422.5" stroke="#000" stroke-width="1"/>
<text x="307.5" y="426.1" font-size="10.2" text-anchor="end" fill="#231f20" font-weight="normal" font-style="normal" textLength="13.8" lengthAdjust="spacingAndGlyphs" >120</text>
<line x1="310.55" y1="443.75" x2="313.75" y2="443.75" stroke="#000" stroke-width="1"/>
<text x="307.5" y="447.35" font-size="10.2" text-anchor="end" fill="#231f20" font-weight="normal" font-style="normal" textLength="13.8" lengthAdjust="spacingAndGlyphs" >100</text>
<line x1="310.55" y1="464.5" x2="313.75" y2="464.5" stroke="#000" stroke-width="1"/>
<text x="307.5" y="468.1" font-size="10.2" text-anchor="end" fill="#231f20" font-weight="normal" font-style="normal" textLength="9.2" lengthAdjust="spacingAndGlyphs" >80</text>
<line x1="310.55" y1="485.25" x2="313.75" y2="485.25" stroke="#000" stroke-width="1"/>
<text x="307.5" y="488.85" font-size="10.2" text-anchor="end" fill="#231f20" font-weight="normal" font-style="normal" textLength="9.2" lengthAdjust="spacingAndGlyphs" >60</text>
<line x1="310.55" y1="506" x2="313.75" y2="506" stroke="#000" stroke-width="1"/>
<text x="307.5" y="509.6" font-size="10.2" text-anchor="end" fill="#231f20" font-weight="normal" font-style="normal" textLength="9.2" lengthAdjust="spacingAndGlyphs" >40</text>
<line x1="310.55" y1="526.75" x2="313.75" y2="526.75" stroke="#000" stroke-width="1"/>
<text x="307.5" y="530.35" font-size="10.2" text-anchor="end" fill="#231f20" font-weight="normal" font-style="normal" textLength="9.2" lengthAdjust="spacingAndGlyphs" >20</text>
<line x1="310.55" y1="547.3" x2="313.75" y2="547.3" stroke="#000" stroke-width="1"/>
<text x="307.5" y="550.9" font-size="10.2" text-anchor="end" fill="#231f20" font-weight="normal" font-style="normal" textLength="4.6" lengthAdjust="spacingAndGlyphs" >0</text>
<line x1="313.5" y1="547.3" x2="504.1" y2="547.3" stroke="#000" stroke-width="1.3"/>
<text x="366.25" y="414.3" font-size="11.4" text-anchor="start" fill="#231f20" font-weight="normal" font-style="normal" textLength="94.6" lengthAdjust="spacingAndGlyphs" >Total CFC re-plating</text>
<rect x="468" y="422.2" width="8.2" height="4.9" fill="#000" stroke="none" stroke-width="0"/>
<text x="479.6" y="427.2" font-size="9.4" text-anchor="start" fill="#231f20" font-weight="normal" font-style="normal" textLength="32.6" lengthAdjust="spacingAndGlyphs" >CFU-GM</text>
<rect x="322.30" y="444.05" width="15.40" height="103.25" fill="#8f96b9" stroke="#8088b3" stroke-width="0.6"/>
<line x1="330.0" y1="547.3" x2="330.0" y2="550.6" stroke="#000" stroke-width="1"/>
<text transform="translate(333.3,558.0) rotate(-45)" x="0" y="0" font-size="9.7" text-anchor="end" fill="#231f20" textLength="20.6" lengthAdjust="spacingAndGlyphs">pRRL</text>
<rect x="346.00" y="471.05" width="15.40" height="76.25" fill="#cd8a7c" stroke="#c47b6d" stroke-width="0.6"/>
<line x1="353.7" y1="457.5" x2="353.7" y2="484.5" stroke="#000" stroke-width="1.2"/>
<line x1="349.95" y1="457.5" x2="357.45" y2="457.5" stroke="#000" stroke-width="1.2"/>
<line x1="349.95" y1="484.5" x2="357.45" y2="484.5" stroke="#000" stroke-width="1.2"/>
<line x1="353.7" y1="547.3" x2="353.7" y2="550.6" stroke="#000" stroke-width="1"/>
<text transform="translate(357.0,558.0) rotate(-45)" x="0" y="0" font-size="9.7" text-anchor="end" fill="#231f20" textLength="31.0" lengthAdjust="spacingAndGlyphs">miR-185</text>
<rect x="369.70" y="497.50" width="15.40" height="49.80" fill="#2d497d" stroke="#223f78" stroke-width="0.6"/>
<line x1="377.4" y1="492.4" x2="377.4" y2="502.3" stroke="#000" stroke-width="1.2"/>
<line x1="373.65" y1="492.4" x2="381.15" y2="492.4" stroke="#000" stroke-width="1.2"/>
<line x1="373.65" y1="502.3" x2="381.15" y2="502.3" stroke="#000" stroke-width="1.2"/>
<line x1="377.4" y1="547.3" x2="377.4" y2="550.6" stroke="#000" stroke-width="1"/>
<text transform="translate(380.7,558.0) rotate(-45)" x="0" y="0" font-size="9.7" text-anchor="end" fill="#231f20" textLength="20.6" lengthAdjust="spacingAndGlyphs">pRRL</text>
<rect x="393.40" y="531.10" width="15.40" height="16.20" fill="#a3022b" stroke="#98001f" stroke-width="0.6"/>
<line x1="401.1" y1="528.4" x2="401.1" y2="533.4" stroke="#000" stroke-width="1.2"/>
<line x1="397.35" y1="528.4" x2="404.85" y2="528.4" stroke="#000" stroke-width="1.2"/>
<line x1="397.35" y1="533.4" x2="404.85" y2="533.4" stroke="#000" stroke-width="1.2"/>
<line x1="401.1" y1="547.3" x2="401.1" y2="550.6" stroke="#000" stroke-width="1"/>
<text transform="translate(404.40000000000003,558.0) rotate(-45)" x="0" y="0" font-size="9.7" text-anchor="end" fill="#231f20" textLength="31.0" lengthAdjust="spacingAndGlyphs">miR-185</text>
<rect x="417.10" y="502.80" width="15.40" height="44.50" fill="#2d497d" stroke="#223f78" stroke-width="0.6"/>
<line x1="424.8" y1="496.7" x2="424.8" y2="508.8" stroke="#000" stroke-width="1.2"/>
<line x1="421.05" y1="496.7" x2="428.55" y2="496.7" stroke="#000" stroke-width="1.2"/>
<line x1="421.05" y1="508.8" x2="428.55" y2="508.8" stroke="#000" stroke-width="1.2"/>
<line x1="424.8" y1="547.3" x2="424.8" y2="550.6" stroke="#000" stroke-width="1"/>
<text transform="translate(428.1,558.0) rotate(-45)" x="0" y="0" font-size="9.7" text-anchor="end" fill="#231f20" textLength="20.6" lengthAdjust="spacingAndGlyphs">pRRL</text>
<rect x="440.80" y="533.10" width="15.40" height="14.20" fill="#a3022b" stroke="#98001f" stroke-width="0.6"/>
<line x1="448.5" y1="527.6" x2="448.5" y2="538.5" stroke="#000" stroke-width="1.2"/>
<line x1="444.75" y1="527.6" x2="452.25" y2="527.6" stroke="#000" stroke-width="1.2"/>
<line x1="444.75" y1="538.5" x2="452.25" y2="538.5" stroke="#000" stroke-width="1.2"/>
<line x1="448.5" y1="547.3" x2="448.5" y2="550.6" stroke="#000" stroke-width="1"/>
<text transform="translate(451.8,558.0) rotate(-45)" x="0" y="0" font-size="9.7" text-anchor="end" fill="#231f20" textLength="31.0" lengthAdjust="spacingAndGlyphs">miR-185</text>
<rect x="464.50" y="505.70" width="15.40" height="41.60" fill="#2d497d" stroke="#223f78" stroke-width="0.6"/>
<line x1="472.2" y1="502.5" x2="472.2" y2="508.3" stroke="#000" stroke-width="1.2"/>
<line x1="468.45" y1="502.5" x2="475.95" y2="502.5" stroke="#000" stroke-width="1.2"/>
<line x1="468.45" y1="508.3" x2="475.95" y2="508.3" stroke="#000" stroke-width="1.2"/>
<line x1="472.2" y1="547.3" x2="472.2" y2="550.6" stroke="#000" stroke-width="1"/>
<text transform="translate(475.5,558.0) rotate(-45)" x="0" y="0" font-size="9.7" text-anchor="end" fill="#231f20" textLength="20.6" lengthAdjust="spacingAndGlyphs">pRRL</text>
<rect x="488.20" y="534.50" width="15.40" height="12.80" fill="#a3022b" stroke="#98001f" stroke-width="0.6"/>
<line x1="495.9" y1="532.2" x2="495.9" y2="536.5" stroke="#000" stroke-width="1.2"/>
<line x1="492.15" y1="532.2" x2="499.65" y2="532.2" stroke="#000" stroke-width="1.2"/>
<line x1="492.15" y1="536.5" x2="499.65" y2="536.5" stroke="#000" stroke-width="1.2"/>
<line x1="495.9" y1="547.3" x2="495.9" y2="550.6" stroke="#000" stroke-width="1"/>
<text transform="translate(499.2,558.0) rotate(-45)" x="0" y="0" font-size="9.7" text-anchor="end" fill="#231f20" textLength="31.0" lengthAdjust="spacingAndGlyphs">miR-185</text>
<polyline points="378.1,480 378.1,472.2 402.3,472.2 402.3,480" fill="none" stroke="#000" stroke-width="1.25"/>
<text x="372.9" y="467.3" font-size="8.8" text-anchor="start" fill="#231f20" font-weight="normal" font-style="italic" textLength="34.6" lengthAdjust="spacingAndGlyphs" >P &lt; 0.001</text>
<polyline points="424.2,480 424.2,472.2 447.9,472.2 447.9,480" fill="none" stroke="#000" stroke-width="1.25"/>
<text x="418.5" y="467.3" font-size="8.8" text-anchor="start" fill="#231f20" font-weight="normal" font-style="italic" textLength="35.1" lengthAdjust="spacingAndGlyphs" >P &lt; 0.001</text>
<polyline points="473.3,484.6 473.3,476.5 496.9,476.5 496.9,484.6" fill="none" stroke="#000" stroke-width="1.25"/>
<text x="468" y="472.5" font-size="8.8" text-anchor="start" fill="#231f20" font-weight="normal" font-style="italic" textLength="35.3" lengthAdjust="spacingAndGlyphs" >P &lt; 0.001</text>
<text transform="translate(274,483) rotate(-90)" x="0" y="0" font-size="10" text-anchor="middle" fill="#231f20" textLength="16.1" lengthAdjust="spacingAndGlyphs">CFC</text>
<text transform="translate(287.2,483) rotate(-90)" x="0" y="0" font-size="10" text-anchor="middle" fill="#231f20" textLength="110" lengthAdjust="spacingAndGlyphs">(% relative to untreated pRRL)</text>
<line x1="320.3" y1="585.3" x2="364.3" y2="585.3" stroke="#000" stroke-width="1"/>
<text x="342.3" y="596.3" font-size="9.7" text-anchor="middle" fill="#231f20" font-weight="normal" font-style="normal" textLength="14.4" lengthAdjust="spacingAndGlyphs" >Ctrl</text>
<line x1="368.5" y1="585.3" x2="410.8" y2="585.3" stroke="#000" stroke-width="1"/>
<text x="390" y="596.3" font-size="9.7" text-anchor="middle" fill="#231f20" font-weight="normal" font-style="normal" textLength="15.4" lengthAdjust="spacingAndGlyphs" >+IM</text>
<line x1="414.2" y1="585.3" x2="456.5" y2="585.3" stroke="#000" stroke-width="1"/>
<text x="435.4" y="596.3" font-size="9.7" text-anchor="middle" fill="#231f20" font-weight="normal" font-style="normal" textLength="17.8" lengthAdjust="spacingAndGlyphs" >+DA</text>
<line x1="459.9" y1="585.3" x2="503" y2="585.3" stroke="#000" stroke-width="1"/>
<text x="481.9" y="596.3" font-size="9.7" text-anchor="middle" fill="#231f20" font-weight="normal" font-style="normal" textLength="16.6" lengthAdjust="spacingAndGlyphs" >+NL</text>
</svg>
</body></html>
